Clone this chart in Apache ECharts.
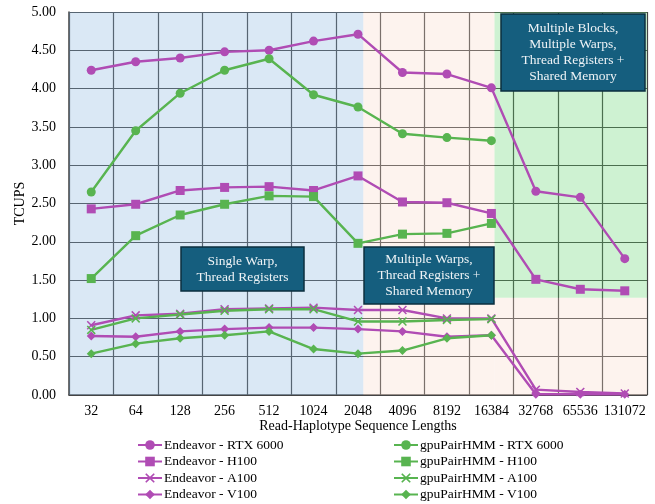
<!DOCTYPE html>
<html>
<head>
<meta charset="utf-8">
<script src="https://cdn.jsdelivr.net/npm/echarts@6/dist/echarts.min.js"></script>
<style>
  html, body { margin: 0; padding: 0; background: #fff; }
  #chart { width: 655px; height: 504px; }
</style>
</head>
<body>
<div id="chart"></div>
<script>
// sequence lengths on the x axis
const lengths = ["32", "64", "128", "256", "512", "1024", "2048", "4096", "8192", "16384", "32768", "65536", "131072"];

// Endeavor
const endRTX = [4.24, 4.35, 4.40, 4.48, 4.50, 4.62, 4.71, 4.21, 4.19, 4.01, 2.66, 2.58, 1.78];
const endH100 = [2.43, 2.49, 2.67, 2.71, 2.72, 2.67, 2.86, 2.52, 2.51, 2.37, 1.51, 1.38, 1.36];
const endA100 = [0.91, 1.04, 1.06, 1.12, 1.13, 1.14, 1.11, 1.11, 1.00, 1.00, 0.07, 0.04, 0.02];
const endV100 = [0.77, 0.76, 0.83, 0.86, 0.88, 0.88, 0.86, 0.83, 0.76, 0.78, 0.01, 0.01, 0.01];

// gpuPairHMM (stops at 16384)
const gpuRTX = [2.65, 3.45, 3.94, 4.24, 4.39, 3.92, 3.76, 3.41, 3.36, 3.32];
const gpuH100 = [1.52, 2.08, 2.35, 2.49, 2.60, 2.59, 1.98, 2.10, 2.11, 2.24];
const gpuA100 = [0.85, 1.00, 1.05, 1.10, 1.12, 1.12, 0.96, 0.96, 0.98, 0.99];
const gpuV100 = [0.54, 0.67, 0.74, 0.78, 0.83, 0.60, 0.54, 0.58, 0.74, 0.78];

const yTicks = [0, 5, 0.5]; // min, max, step

const PURPLE = "#b04cb4";
const GREEN = "#58b450";
const FONT = "Liberation Serif";
const X_SYMBOL = "path://M0,1.2L1.2,0L5,3.8L8.8,0L10,1.2L6.2,5L10,8.8L8.8,10L5,6.2L1.2,10L0,8.8L3.8,5Z";

function mkSeries(name, data, color, symbol, size) {
    return {
        name: name,
        type: "line",
        data: data,
        symbol: symbol,
        symbolSize: size,
        showSymbol: true,
        z: 3,
        lineStyle: { color: color, width: 2.4 },
        itemStyle: { color: color },
        emphasis: { disabled: true }
    };
}

let myChart = echarts.init(document.getElementById("chart"), null, { renderer: "canvas" });

// shaded regions are drawn over the lines in a hidden 0..13 value axis
let regions = {
    name: "regions",
    type: "line",
    xAxisIndex: 1,
    data: [],
    z: 10,
    silent: true,
    markArea: {
        silent: true,
        data: [
            [{ xAxis: 0, yAxis: 0, itemStyle: { color: "rgba(132,178,222,0.3)" } }, { xAxis: 6.62, yAxis: 5 }],
            [{ xAxis: 6.62, yAxis: 0, itemStyle: { color: "rgba(248,215,198,0.3)" } }, { xAxis: 9.57, yAxis: 5 }],
            [{ xAxis: 9.57, yAxis: 0, itemStyle: { color: "rgba(248,215,198,0.3)" } }, { xAxis: 13, yAxis: 1.27 }],
            [{ xAxis: 9.57, yAxis: 1.27, itemStyle: { color: "rgba(92,212,105,0.3)" } }, { xAxis: 13, yAxis: 5 }]
        ]
    }
};

function box(cx, cy, w, h, text) {
    return {
        type: "group",
        x: cx - w / 2,
        y: cy - h / 2,
        z: 100,
        children: [
            { type: "rect", z: 100, shape: { x: 0, y: 0, width: w, height: h },
              style: { fill: "#155e7e", stroke: "#0b2f3f", lineWidth: 1.5 } },
            { type: "text", z: 101, x: w / 2, y: h / 2,
              style: { text: text, fill: "#eef3f6", font: "13.5px " + FONT,
                       align: "center", verticalAlign: "middle", lineHeight: 16 } }
        ]
    };
}

let legendCommon = {
    orient: "vertical",
    top: 437,
    padding: 0,
    itemWidth: 24,
    itemHeight: 12,
    itemGap: 0.5,
    textStyle: { fontFamily: FONT, fontSize: 13.5, lineHeight: 16, color: "#000", padding: [0, 0, 0, -3] }
};

let option = {
    animation: false,
    grid: { left: 69, right: 8, top: 12, bottom: 109, containLabel: false },
    legend: [
        Object.assign({ left: 137, data: ["Endeavor - RTX 6000", "Endeavor - H100", "Endeavor - A100", "Endeavor - V100"] }, legendCommon),
        Object.assign({ left: 393, data: ["gpuPairHMM - RTX 6000", "gpuPairHMM - H100", "gpuPairHMM - A100", "gpuPairHMM - V100"] }, legendCommon)
    ],
    xAxis: [{
        type: "category",
        data: lengths,
        boundaryGap: true,
        name: "Read-Haplotype Sequence Lengths",
        nameLocation: "middle",
        nameGap: 24,
        nameMoveOverlap: false,
        nameTextStyle: { fontFamily: FONT, fontSize: 14, color: "#000" },
        axisLine: { show: true, lineStyle: { color: "#444", width: 1.5 } },
        axisTick: { show: false },
        axisLabel: { fontFamily: FONT, fontSize: 14, color: "#000", margin: 9, interval: 0 },
        splitLine: { show: true, lineStyle: { color: "#444", width: 1.2 } }
    }, {
        type: "value",
        min: 0,
        max: 13,
        show: false
    }],
    yAxis: {
        type: "value",
        min: yTicks[0],
        max: yTicks[1],
        interval: yTicks[2],
        name: "TCUPS",
        nameLocation: "middle",
        nameGap: 42,
        nameMoveOverlap: false,
        nameTextStyle: { fontFamily: FONT, fontSize: 14, color: "#000" },
        axisLine: { show: true, lineStyle: { color: "#444", width: 1.5 } },
        axisTick: { show: false },
        axisLabel: { fontFamily: FONT, fontSize: 14, color: "#000", margin: 13,
                     formatter: function (v) { return v.toFixed(2); } },
        splitLine: { show: true, lineStyle: { color: "#444", width: 1.2 } }
    },
    series: [
        mkSeries("Endeavor - RTX 6000", endRTX, PURPLE, "circle", 9),
        mkSeries("Endeavor - H100", endH100, PURPLE, "rect", 9),
        mkSeries("Endeavor - A100", endA100, PURPLE, X_SYMBOL, 9),
        mkSeries("Endeavor - V100", endV100, PURPLE, "diamond", 9),
        mkSeries("gpuPairHMM - RTX 6000", gpuRTX, GREEN, "circle", 9),
        mkSeries("gpuPairHMM - H100", gpuH100, GREEN, "rect", 9),
        mkSeries("gpuPairHMM - A100", gpuA100, GREEN, X_SYMBOL, 9),
        mkSeries("gpuPairHMM - V100", gpuV100, GREEN, "diamond", 9),
        regions
    ],
    graphic: [
        box(242.5, 269, 123, 44, "Single Warp,\nThread Registers"),
        box(429, 275.5, 130, 57, "Multiple Warps,\nThread Registers +\nShared Memory"),
        box(573, 52.5, 144, 77, "Multiple Blocks,\nMultiple Warps,\nThread Registers +\nShared Memory")
    ]
};

myChart.setOption(option);
</script>
</body>
</html>
